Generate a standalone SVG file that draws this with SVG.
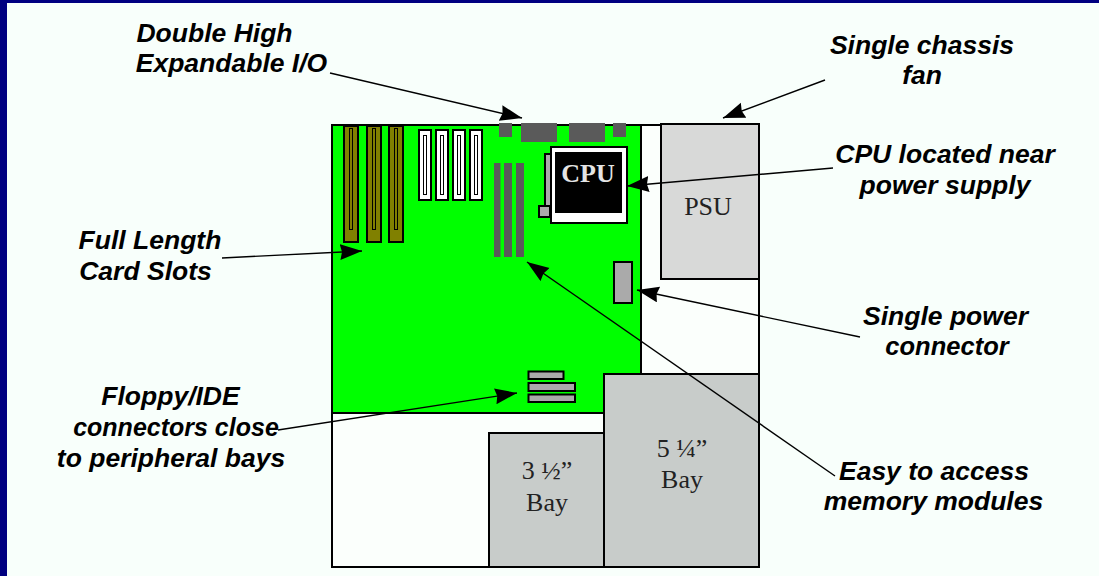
<svg xmlns="http://www.w3.org/2000/svg" width="1099" height="576" viewBox="0 0 1099 576">
<style>
.l{font-family:"Liberation Sans",Arial,sans-serif;font-weight:bold;font-style:italic;font-size:26.5px;fill:#000;text-anchor:middle}
.s{font-family:"Liberation Serif","Times New Roman",serif;font-size:26px;fill:#222;text-anchor:middle}
.o{fill:#808000;stroke:#000;stroke-width:2}
.w{fill:#fff;stroke:#000;stroke-width:2}
.k{fill:none;stroke:#000;stroke-width:1}
.m{fill:#5a5a5a}
.g{fill:#aaa;stroke:#000;stroke-width:2}
.b{stroke:#000;stroke-width:2}
.c{fill:none;stroke:#000;stroke-width:1.4;marker-end:url(#a)}
</style>
<defs>
<marker id="a" markerUnits="userSpaceOnUse" markerWidth="24" markerHeight="18" refX="22" refY="8" orient="auto"><path d="M0,0 L22,8 L0,16 L2,8 Z" fill="#000"/></marker>
</defs>
<rect width="1099" height="576" fill="#000080"/>
<rect x="7" y="3" width="1092" height="573" fill="#f8fffb"/>

<g id="chassis"><rect x="332" y="125" width="427" height="442" fill="#fbfffc" stroke="#000" stroke-width="2"/></g>
<g id="motherboard"><rect x="332" y="125" width="309" height="288" fill="#00ff00" stroke="#000" stroke-width="2"/></g>

<g id="card-slots">
<rect class="o" x="344" y="126" width="14" height="116"/><rect class="k" x="349.500" y="128.500" width="3" height="101"/>
<rect class="o" x="367" y="126" width="14" height="116"/><rect class="k" x="372.500" y="128.500" width="3" height="101"/>
<rect class="o" x="389" y="126" width="14" height="116"/><rect class="k" x="394.500" y="128.500" width="3" height="101"/>
</g>
<g id="pci-slots">
<rect class="w" x="419" y="130" width="12" height="70"/><rect class="k" x="423.500" y="135.500" width="3" height="59"/>
<rect class="w" x="436" y="130" width="12" height="70"/><rect class="k" x="440.500" y="135.500" width="3" height="59"/>
<rect class="w" x="453" y="130" width="12" height="70"/><rect class="k" x="457.500" y="135.500" width="3" height="59"/>
<rect class="w" x="470" y="130" width="12" height="70"/><rect class="k" x="474.500" y="135.500" width="3" height="59"/>
</g>
<g id="memory">
<rect class="m" x="494" y="163" width="6.500" height="94"/>
<rect class="m" x="504" y="163" width="8" height="94"/>
<rect class="m" x="516" y="163" width="8" height="94"/>
</g>
<g id="io-ports">
<rect class="m" x="499" y="123" width="13" height="14"/>
<rect class="m" x="521" y="123" width="36" height="19"/>
<rect class="m" x="569" y="123" width="36" height="19"/>
<rect class="m" x="613" y="123" width="13" height="14"/>
</g>
<g id="cpu">
<rect class="g" x="545" y="154" width="6" height="54"/>
<rect class="g" x="539" y="206" width="11" height="11"/>
<rect class="w" x="551" y="147" width="76" height="76"/>
<rect x="555" y="152" width="67" height="61" fill="#000"/>
<text x="588" y="182" font-family="Liberation Serif,serif" font-weight="bold" font-size="26" fill="#e4e4e4" text-anchor="middle">CPU</text>
</g>
<g id="power-connector"><rect class="g" x="614" y="262" width="18" height="41"/></g>
<g id="floppy-ide">
<rect class="g" x="528.500" y="371.500" width="35" height="7.500"/>
<rect class="g" x="528.500" y="383" width="46.500" height="8"/>
<rect class="g" x="528.500" y="394.500" width="46.500" height="7.500"/>
</g>
<g id="psu">
<rect class="b" x="661" y="124" width="98" height="155" fill="#d8d9d8"/>
<text class="s" x="708" y="215">PSU</text>
</g>
<g id="bay-35">
<rect class="b" x="489" y="433" width="115" height="134" fill="#c8ccca"/>
<text class="s" x="547" y="479">3 ½”</text><text class="s" x="547" y="511">Bay</text>
</g>
<g id="bay-525">
<rect class="b" x="604" y="374" width="155" height="193" fill="#c8ccca"/>
<text class="s" x="682" y="457">5 ¼”</text><text class="s" x="682" y="488">Bay</text>
</g>

<g id="connectors">
<line class="c" x1="330" y1="73" x2="522" y2="118"/>
<line class="c" x1="825" y1="80" x2="723" y2="118"/>
<line class="c" x1="833" y1="168" x2="627" y2="186"/>
<line class="c" x1="860" y1="337" x2="637" y2="290"/>
<line class="c" x1="835" y1="476" x2="527" y2="262"/>
<line class="c" x1="222" y1="258" x2="362" y2="251"/>
<line class="c" x1="278" y1="430" x2="517" y2="393"/>
</g>

<g id="labels">
<text class="l" x="214.500" y="42">Double High</text>
<text class="l" x="231.500" y="72">Expandable I/O</text>
<text class="l" x="922" y="54">Single chassis</text>
<text class="l" x="922" y="84">fan</text>
<text class="l" x="945" y="163">CPU located near</text>
<text class="l" x="945" y="194">power supply</text>
<text class="l" x="150" y="249">Full Length</text>
<text class="l" x="145.500" y="280">Card Slots</text>
<text class="l" x="945.500" y="325">Single power</text>
<text class="l" x="947" y="355" style="font-size:25.500px">connector</text>
<text class="l" x="170.500" y="405">Floppy/IDE</text>
<text class="l" x="176" y="436" style="font-size:25px">connectors close</text>
<text class="l" x="171" y="467">to peripheral bays</text>
<text class="l" x="934" y="480">Easy to access</text>
<text class="l" x="933.500" y="510">memory modules</text>
</g>
</svg>
